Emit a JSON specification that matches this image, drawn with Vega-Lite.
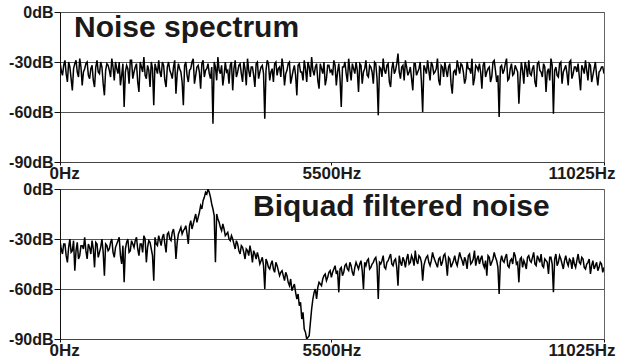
{
"$schema": "https://vega.github.io/schema/vega-lite/v6.json",
"background": "white",
"padding": {"left": 8, "top": 3, "right": 3, "bottom": 0},
"bounds": "flush",
"spacing": 27,
"datasets": {"spec": [
{"f":0,"a":-30,"b":-31},{"f":25,"a":-35,"b":-36},{"f":50,"a":-38,"b":-39},{"f":75,"a":-32,"b":-33},{"f":100,"a":-29,"b":-33},{"f":125,"a":-37,"b":-40},{"f":150,"a":-42,"b":-44},{"f":175,"a":-30,"b":-35},{"f":200,"a":-33,"b":-30},{"f":225,"a":-40,"b":-38},{"f":250,"a":-47,"b":-37},{"f":275,"a":-34,"b":-31},{"f":300,"a":-31,"b":-49},{"f":325,"a":-29,"b":-37},{"f":350,"a":-36,"b":-32},{"f":375,"a":-39,"b":-42},{"f":400,"a":-28,"b":-40},{"f":425,"a":-33,"b":-34},{"f":450,"a":-44,"b":-34},{"f":475,"a":-36,"b":-36},
{"f":500,"a":-34,"b":-29},{"f":525,"a":-31,"b":-37},{"f":550,"a":-30,"b":-42},{"f":575,"a":-38,"b":-33},{"f":600,"a":-40,"b":-35},{"f":625,"a":-34,"b":-39},{"f":650,"a":-32,"b":-31},{"f":675,"a":-41,"b":-36},{"f":700,"a":-45,"b":-47},{"f":725,"a":-33,"b":-32},{"f":750,"a":-29,"b":-33},{"f":775,"a":-36,"b":-41},{"f":800,"a":-37,"b":-38},{"f":825,"a":-30,"b":-35},{"f":850,"a":-33,"b":-30},{"f":875,"a":-43,"b":-38},{"f":900,"a":-50,"b":-52},{"f":925,"a":-35,"b":-33},{"f":950,"a":-31,"b":-34},{"f":975,"a":-32,"b":-37},
{"f":1000,"a":-35,"b":-36},{"f":1025,"a":-39,"b":-32},{"f":1050,"a":-28,"b":-30},{"f":1075,"a":-33,"b":-38},{"f":1100,"a":-41,"b":-41},{"f":1125,"a":-30,"b":-35},{"f":1150,"a":-34,"b":-33},{"f":1175,"a":-37,"b":-31},{"f":1200,"a":-30,"b":-29},{"f":1225,"a":-44,"b":-40},{"f":1250,"a":-38,"b":-45},{"f":1275,"a":-31,"b":-34},{"f":1300,"a":-57,"b":-56},{"f":1325,"a":-36,"b":-36},{"f":1350,"a":-32,"b":-32},{"f":1375,"a":-34,"b":-30},{"f":1400,"a":-43,"b":-38},{"f":1425,"a":-29,"b":-37},{"f":1450,"a":-29,"b":-31},{"f":1475,"a":-40,"b":-33},
{"f":1500,"a":-36,"b":-35},{"f":1525,"a":-33,"b":-31},{"f":1550,"a":-31,"b":-29},{"f":1575,"a":-42,"b":-36},{"f":1600,"a":-48,"b":-40},{"f":1625,"a":-30,"b":-33},{"f":1650,"a":-33,"b":-33},{"f":1675,"a":-36,"b":-38},{"f":1700,"a":-27,"b":-28},{"f":1725,"a":-38,"b":-30},{"f":1750,"a":-40,"b":-44},{"f":1775,"a":-32,"b":-35},{"f":1800,"a":-35,"b":-31},{"f":1825,"a":-45,"b":-32},{"f":1850,"a":-30,"b":-36},{"f":1875,"a":-34,"b":-40},{"f":1900,"a":-56,"b":-55},{"f":1925,"a":-31,"b":-29},{"f":1950,"a":-34,"b":-33},{"f":1975,"a":-37,"b":-34},
{"f":2000,"a":-29,"b":-28},{"f":2025,"a":-36,"b":-31},{"f":2050,"a":-39,"b":-34},{"f":2075,"a":-30,"b":-29},{"f":2100,"a":-32,"b":-27},{"f":2125,"a":-41,"b":-33},{"f":2150,"a":-45,"b":-38},{"f":2175,"a":-33,"b":-27},{"f":2200,"a":-30,"b":-26},{"f":2225,"a":-35,"b":-30},{"f":2250,"a":-37,"b":-31},{"f":2275,"a":-40,"b":-26},{"f":2300,"a":-33,"b":-24},{"f":2325,"a":-29,"b":-29},{"f":2350,"a":-49,"b":-42},{"f":2375,"a":-37,"b":-32},{"f":2400,"a":-31,"b":-27},{"f":2425,"a":-34,"b":-25},{"f":2450,"a":-36,"b":-23},{"f":2475,"a":-42,"b":-27},
{"f":2500,"a":-56,"b":-25},{"f":2525,"a":-32,"b":-24},{"f":2550,"a":-30,"b":-22},{"f":2575,"a":-38,"b":-27},{"f":2600,"a":-42,"b":-33},{"f":2625,"a":-35,"b":-22},{"f":2650,"a":-34,"b":-19},{"f":2675,"a":-30,"b":-24},{"f":2700,"a":-28,"b":-21},{"f":2725,"a":-43,"b":-18},{"f":2750,"a":-38,"b":-15},{"f":2775,"a":-33,"b":-20},{"f":2800,"a":-32,"b":-17},{"f":2825,"a":-36,"b":-14},{"f":2850,"a":-46,"b":-10},{"f":2875,"a":-31,"b":-12},{"f":2900,"a":-29,"b":-7},{"f":2925,"a":-39,"b":-5},{"f":2950,"a":-35,"b":-2},{"f":2975,"a":-34,"b":-3},
{"f":3000,"a":-31,"b":0},{"f":3025,"a":-37,"b":-2},{"f":3050,"a":-40,"b":-5},{"f":3075,"a":-33,"b":-9},{"f":3100,"a":-67,"b":-12},{"f":3125,"a":-30,"b":-16},{"f":3150,"a":-33,"b":-44},{"f":3175,"a":-41,"b":-15},{"f":3200,"a":-27,"b":-18},{"f":3225,"a":-35,"b":-20},{"f":3250,"a":-37,"b":-23},{"f":3275,"a":-32,"b":-25},{"f":3300,"a":-44,"b":-21},{"f":3325,"a":-38,"b":-24},{"f":3350,"a":-30,"b":-28},{"f":3375,"a":-36,"b":-27},{"f":3400,"a":-35,"b":-26},{"f":3425,"a":-43,"b":-30},{"f":3450,"a":-32,"b":-31},{"f":3475,"a":-30,"b":-28},
{"f":3500,"a":-47,"b":-30},{"f":3525,"a":-34,"b":-33},{"f":3550,"a":-29,"b":-36},{"f":3575,"a":-39,"b":-31},{"f":3600,"a":-36,"b":-33},{"f":3625,"a":-32,"b":-37},{"f":3650,"a":-31,"b":-39},{"f":3675,"a":-37,"b":-34},{"f":3700,"a":-42,"b":-35},{"f":3725,"a":-30,"b":-38},{"f":3750,"a":-34,"b":-42},{"f":3775,"a":-44,"b":-36},{"f":3800,"a":-28,"b":-37},{"f":3825,"a":-35,"b":-40},{"f":3850,"a":-39,"b":-34},{"f":3875,"a":-33,"b":-38},{"f":3900,"a":-33,"b":-44},{"f":3925,"a":-38,"b":-37},{"f":3950,"a":-45,"b":-39},{"f":3975,"a":-31,"b":-42},
{"f":4000,"a":-30,"b":-38},{"f":4025,"a":-40,"b":-41},{"f":4050,"a":-36,"b":-45},{"f":4075,"a":-33,"b":-43},{"f":4100,"a":-32,"b":-41},{"f":4125,"a":-37,"b":-46},{"f":4150,"a":-64,"b":-60},{"f":4175,"a":-35,"b":-42},{"f":4200,"a":-29,"b":-44},{"f":4225,"a":-31,"b":-47},{"f":4250,"a":-41,"b":-48},{"f":4275,"a":-36,"b":-45},{"f":4300,"a":-34,"b":-43},{"f":4325,"a":-42,"b":-48},{"f":4350,"a":-31,"b":-50},{"f":4375,"a":-30,"b":-44},{"f":4400,"a":-38,"b":-46},{"f":4425,"a":-34,"b":-49},{"f":4450,"a":-33,"b":-52},{"f":4475,"a":-39,"b":-50},
{"f":4500,"a":-28,"b":-49},{"f":4525,"a":-33,"b":-52},{"f":4550,"a":-44,"b":-55},{"f":4575,"a":-37,"b":-50},{"f":4600,"a":-35,"b":-52},{"f":4625,"a":-31,"b":-56},{"f":4650,"a":-30,"b":-58},{"f":4675,"a":-43,"b":-54},{"f":4700,"a":-39,"b":-61},{"f":4725,"a":-35,"b":-59},{"f":4750,"a":-32,"b":-57},{"f":4775,"a":-38,"b":-62},{"f":4800,"a":-50,"b":-66},{"f":4825,"a":-32,"b":-63},{"f":4850,"a":-31,"b":-70},{"f":4875,"a":-36,"b":-68},{"f":4900,"a":-36,"b":-78},{"f":4925,"a":-41,"b":-74},{"f":4950,"a":-29,"b":-84},{"f":4975,"a":-34,"b":-86},
{"f":5000,"a":-42,"b":-90},{"f":5025,"a":-30,"b":-89},{"f":5050,"a":-33,"b":-88},{"f":5075,"a":-39,"b":-80},{"f":5100,"a":-27,"b":-72},{"f":5125,"a":-35,"b":-66},{"f":5150,"a":-38,"b":-62},{"f":5175,"a":-33,"b":-60},{"f":5200,"a":-31,"b":-66},{"f":5225,"a":-41,"b":-59},{"f":5250,"a":-46,"b":-56},{"f":5275,"a":-31,"b":-57},{"f":5300,"a":-34,"b":-58},{"f":5325,"a":-37,"b":-54},{"f":5350,"a":-30,"b":-52},{"f":5375,"a":-44,"b":-51},{"f":5400,"a":-40,"b":-55},{"f":5425,"a":-32,"b":-53},{"f":5450,"a":-32,"b":-50},{"f":5475,"a":-36,"b":-49},
{"f":5500,"a":-35,"b":-53},{"f":5525,"a":-38,"b":-50},{"f":5550,"a":-29,"b":-48},{"f":5575,"a":-32,"b":-46},{"f":5600,"a":-44,"b":-51},{"f":5625,"a":-36,"b":-49},{"f":5650,"a":-31,"b":-62},{"f":5675,"a":-40,"b":-48},{"f":5700,"a":-57,"b":-47},{"f":5725,"a":-33,"b":-52},{"f":5750,"a":-33,"b":-50},{"f":5775,"a":-30,"b":-46},{"f":5800,"a":-37,"b":-45},{"f":5825,"a":-42,"b":-48},{"f":5850,"a":-28,"b":-49},{"f":5875,"a":-35,"b":-44},{"f":5900,"a":-41,"b":-46},{"f":5925,"a":-31,"b":-50},{"f":5950,"a":-34,"b":-52},{"f":5975,"a":-37,"b":-47},
{"f":6000,"a":-30,"b":-44},{"f":6025,"a":-35,"b":-46},{"f":6050,"a":-48,"b":-48},{"f":6075,"a":-31,"b":-45},{"f":6100,"a":-32,"b":-43},{"f":6125,"a":-43,"b":-49},{"f":6150,"a":-36,"b":-60},{"f":6175,"a":-34,"b":-44},{"f":6200,"a":-29,"b":-46},{"f":6225,"a":-38,"b":-43},{"f":6250,"a":-39,"b":-42},{"f":6275,"a":-32,"b":-48},{"f":6300,"a":-33,"b":-47},{"f":6325,"a":-36,"b":-45},{"f":6350,"a":-43,"b":-44},{"f":6375,"a":-30,"b":-42},{"f":6400,"a":-31,"b":-41},{"f":6425,"a":-40,"b":-46},{"f":6450,"a":-62,"b":-66},{"f":6475,"a":-33,"b":-44},
{"f":6500,"a":-34,"b":-45},{"f":6525,"a":-39,"b":-43},{"f":6550,"a":-28,"b":-40},{"f":6575,"a":-35,"b":-47},{"f":6600,"a":-37,"b":-48},{"f":6625,"a":-32,"b":-44},{"f":6650,"a":-31,"b":-43},{"f":6675,"a":-42,"b":-41},{"f":6700,"a":-45,"b":-39},{"f":6725,"a":-34,"b":-45},{"f":6750,"a":-30,"b":-46},{"f":6775,"a":-37,"b":-43},{"f":6800,"a":-35,"b":-42},{"f":6825,"a":-31,"b":-47},{"f":6850,"a":-25,"b":-58},{"f":6875,"a":-36,"b":-40},{"f":6900,"a":-40,"b":-44},{"f":6925,"a":-33,"b":-46},{"f":6950,"a":-32,"b":-41},{"f":6975,"a":-41,"b":-43},
{"f":7000,"a":-29,"b":-47},{"f":7025,"a":-33,"b":-42},{"f":7050,"a":-38,"b":-39},{"f":7075,"a":-36,"b":-45},{"f":7100,"a":-33,"b":-44},{"f":7125,"a":-40,"b":-40},{"f":7150,"a":-47,"b":-42},{"f":7175,"a":-31,"b":-46},{"f":7200,"a":-31,"b":-37},{"f":7225,"a":-38,"b":-43},{"f":7250,"a":-36,"b":-45},{"f":7275,"a":-34,"b":-40},{"f":7300,"a":-30,"b":-41},{"f":7325,"a":-42,"b":-44},{"f":7350,"a":-60,"b":-55},{"f":7375,"a":-32,"b":-46},{"f":7400,"a":-34,"b":-43},{"f":7425,"a":-37,"b":-41},{"f":7450,"a":-29,"b":-40},{"f":7475,"a":-35,"b":-44},
{"f":7500,"a":-41,"b":-46},{"f":7525,"a":-30,"b":-43},{"f":7550,"a":-32,"b":-38},{"f":7575,"a":-37,"b":-41},{"f":7600,"a":-36,"b":-43},{"f":7625,"a":-34,"b":-45},{"f":7650,"a":-28,"b":-47},{"f":7675,"a":-41,"b":-42},{"f":7700,"a":-44,"b":-41},{"f":7725,"a":-32,"b":-46},{"f":7750,"a":-33,"b":-44},{"f":7775,"a":-39,"b":-40},{"f":7800,"a":-30,"b":-39},{"f":7825,"a":-35,"b":-44},{"f":7850,"a":-39,"b":-52},{"f":7875,"a":-33,"b":-41},{"f":7900,"a":-31,"b":-42},{"f":7925,"a":-43,"b":-47},{"f":7950,"a":-49,"b":-45},{"f":7975,"a":-36,"b":-43},
{"f":8000,"a":-35,"b":-40},{"f":8025,"a":-38,"b":-44},{"f":8050,"a":-29,"b":-46},{"f":8075,"a":-33,"b":-42},{"f":8100,"a":-37,"b":-38},{"f":8125,"a":-31,"b":-41},{"f":8150,"a":-32,"b":-43},{"f":8175,"a":-36,"b":-46},{"f":8200,"a":-43,"b":-41},{"f":8225,"a":-40,"b":-43},{"f":8250,"a":-30,"b":-48},{"f":8275,"a":-34,"b":-40},{"f":8300,"a":-34,"b":-39},{"f":8325,"a":-37,"b":-45},{"f":8350,"a":-28,"b":-44},{"f":8375,"a":-44,"b":-42},{"f":8400,"a":-40,"b":-37},{"f":8425,"a":-32,"b":-46},{"f":8450,"a":-33,"b":-42},{"f":8475,"a":-35,"b":-40},
{"f":8500,"a":-31,"b":-45},{"f":8525,"a":-36,"b":-42},{"f":8550,"a":-46,"b":-40},{"f":8575,"a":-32,"b":-45},{"f":8600,"a":-30,"b":-47},{"f":8625,"a":-39,"b":-43},{"f":8650,"a":-36,"b":-52},{"f":8675,"a":-34,"b":-40},{"f":8700,"a":-33,"b":-41},{"f":8725,"a":-42,"b":-46},{"f":8750,"a":-39,"b":-44},{"f":8775,"a":-30,"b":-42},{"f":8800,"a":-29,"b":-38},{"f":8825,"a":-35,"b":-41},{"f":8850,"a":-42,"b":-43},{"f":8875,"a":-38,"b":-47},{"f":8900,"a":-63,"b":-63},{"f":8925,"a":-33,"b":-44},{"f":8950,"a":-32,"b":-40},{"f":8975,"a":-37,"b":-43},
{"f":9000,"a":-35,"b":-44},{"f":9025,"a":-31,"b":-41},{"f":9050,"a":-28,"b":-39},{"f":9075,"a":-41,"b":-46},{"f":9100,"a":-40,"b":-47},{"f":9125,"a":-34,"b":-43},{"f":9150,"a":-31,"b":-42},{"f":9175,"a":-38,"b":-45},{"f":9200,"a":-37,"b":-38},{"f":9225,"a":-32,"b":-40},{"f":9250,"a":-34,"b":-45},{"f":9275,"a":-36,"b":-44},{"f":9300,"a":-55,"b":-56},{"f":9325,"a":-40,"b":-42},{"f":9350,"a":-30,"b":-41},{"f":9375,"a":-35,"b":-47},{"f":9400,"a":-43,"b":-43},{"f":9425,"a":-30,"b":-45},{"f":9450,"a":-33,"b":-48},{"f":9475,"a":-39,"b":-41},
{"f":9500,"a":-29,"b":-40},{"f":9525,"a":-37,"b":-43},{"f":9550,"a":-38,"b":-44},{"f":9575,"a":-34,"b":-41},{"f":9600,"a":-32,"b":-38},{"f":9625,"a":-42,"b":-45},{"f":9650,"a":-45,"b":-46},{"f":9675,"a":-31,"b":-40},{"f":9700,"a":-30,"b":-42},{"f":9725,"a":-35,"b":-44},{"f":9750,"a":-36,"b":-39},{"f":9775,"a":-39,"b":-46},{"f":9800,"a":-31,"b":-47},{"f":9825,"a":-33,"b":-42},{"f":9850,"a":-48,"b":-43},{"f":9875,"a":-36,"b":-44},{"f":9900,"a":-34,"b":-51},{"f":9925,"a":-41,"b":-41},{"f":9950,"a":-28,"b":-41},{"f":9975,"a":-32,"b":-45},
{"f":10000,"a":-61,"b":-62},{"f":10025,"a":-35,"b":-42},{"f":10050,"a":-33,"b":-39},{"f":10075,"a":-38,"b":-46},{"f":10100,"a":-39,"b":-44},{"f":10125,"a":-31,"b":-40},{"f":10150,"a":-30,"b":-42},{"f":10175,"a":-43,"b":-45},{"f":10200,"a":-36,"b":-48},{"f":10225,"a":-34,"b":-43},{"f":10250,"a":-32,"b":-40},{"f":10275,"a":-37,"b":-44},{"f":10300,"a":-44,"b":-46},{"f":10325,"a":-30,"b":-42},{"f":10350,"a":-29,"b":-43},{"f":10375,"a":-40,"b":-48},{"f":10400,"a":-37,"b":-41},{"f":10425,"a":-33,"b":-45},{"f":10450,"a":-33,"b":-47},{"f":10475,"a":-36,"b":-43},
{"f":10500,"a":-31,"b":-39},{"f":10525,"a":-39,"b":-44},{"f":10550,"a":-47,"b":-45},{"f":10575,"a":-32,"b":-41},{"f":10600,"a":-34,"b":-42},{"f":10625,"a":-37,"b":-47},{"f":10650,"a":-29,"b":-48},{"f":10675,"a":-35,"b":-45},{"f":10700,"a":-41,"b":-44},{"f":10725,"a":-31,"b":-42},{"f":10750,"a":-32,"b":-51},{"f":10775,"a":-42,"b":-46},{"f":10800,"a":-38,"b":-43},{"f":10825,"a":-34,"b":-48},{"f":10850,"a":-30,"b":-46},{"f":10875,"a":-38,"b":-44},{"f":10900,"a":-44,"b":-49},{"f":10925,"a":-36,"b":-47},{"f":10950,"a":-35,"b":-44},{"f":10975,"a":-33,"b":-45},
{"f":11000,"a":-33,"b":-50},{"f":11025,"a":-37,"b":-47}
]},
"config": {
  "view": {"stroke": "#666", "strokeWidth": 1},
  "axis": {"labelFont": "Liberation Sans", "labelFontWeight": "bold", "labelColor": "#1a1a1a", "domainColor": "#111", "tickColor": "#111"}
},
"vconcat": [
  {
    "width": 544, "height": 150,
    "layer": [
      {
        "data": {"name": "spec"},
        "mark": {"type": "line", "color": "#000000", "strokeWidth": 1.5, "clip": true},
        "encoding": {
          "x": {"field": "f", "type": "quantitative", "scale": {"domain": [0, 11025], "nice": false, "zero": false},
                "axis": {"title": null, "values": [0, 5500, 11025], "labelExpr": "datum.value + 'Hz'", "labelFontSize": 17, "labelFlush": true, "labelFlushOffset": 11, "tickSize": 3, "labelPadding": 0, "grid": false, "domainColor": "#444"}},
          "y": {"field": "a", "type": "quantitative", "scale": {"domain": [-90, 0], "nice": false},
                "axis": {"title": null, "values": [0, -30, -60, -90], "labelExpr": "datum.value + 'dB'", "labelFontSize": 16, "tickSize": 6, "labelPadding": 1, "grid": true, "gridColor": "#555", "gridOpacity": 1}}
        }
      },
      {
        "data": {"values": [{"t": "Noise spectrum"}]},
        "mark": {"type": "text", "align": "left", "baseline": "alphabetic", "font": "Liberation Sans", "fontWeight": "bold", "fontSize": 30, "color": "#1a1a1a"},
        "encoding": {
          "x": {"datum": 284, "type": "quantitative"},
          "y": {"datum": -15, "type": "quantitative"},
          "text": {"field": "t"}
        }
      }
    ]
  },
  {
    "width": 544, "height": 150,
    "layer": [
      {
        "data": {"name": "spec"},
        "mark": {"type": "line", "color": "#000000", "strokeWidth": 1.5, "clip": true},
        "encoding": {
          "x": {"field": "f", "type": "quantitative", "scale": {"domain": [0, 11025], "nice": false, "zero": false},
                "axis": {"title": null, "values": [0, 5500, 11025], "labelExpr": "datum.value + 'Hz'", "labelFontSize": 17, "labelFlush": true, "labelFlushOffset": 11, "tickSize": 3, "labelPadding": 0, "grid": false, "domainColor": "#444"}},
          "y": {"field": "b", "type": "quantitative", "scale": {"domain": [-90, 0], "nice": false},
                "axis": {"title": null, "values": [0, -30, -60, -90], "labelExpr": "datum.value + 'dB'", "labelFontSize": 16, "tickSize": 6, "labelPadding": 1, "grid": true, "gridColor": "#555", "gridOpacity": 1}}
        }
      },
      {
        "data": {"values": [{"t": "Biquad filtered noise"}]},
        "mark": {"type": "text", "align": "left", "baseline": "alphabetic", "font": "Liberation Sans", "fontWeight": "bold", "fontSize": 30, "color": "#1a1a1a"},
        "encoding": {
          "x": {"datum": 3912, "type": "quantitative"},
          "y": {"datum": -16, "type": "quantitative"},
          "text": {"field": "t"}
        }
      }
    ]
  }
]
}
